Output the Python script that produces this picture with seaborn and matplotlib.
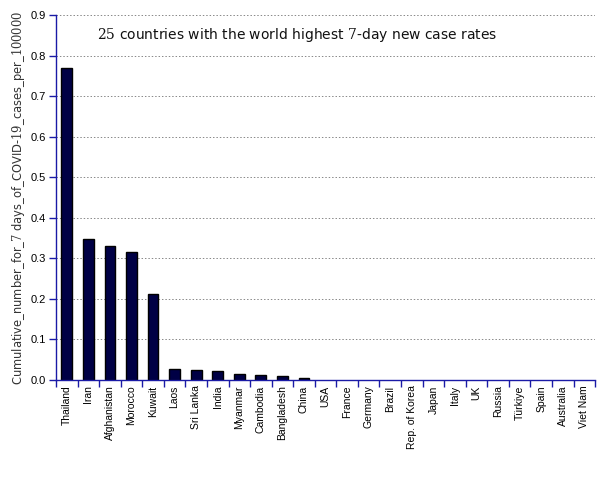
import matplotlib

matplotlib.use("Agg")
import matplotlib.pyplot as plt
import numpy as np
import pandas as pd
import seaborn as sns

countries = [
    "Thailand", "Iran", "Afghanistan", "Morocco", "Kuwait", "Laos", "Sri Lanka",
    "India", "Myanmar", "Cambodia", "Bangladesh", "China", "USA", "France",
    "Germany", "Brazil", "Rep. of Korea", "Japan", "Italy", "UK", "Russia",
    "Türkiye", "Spain", "Australia", "Viet Nam",
]
rates = [
    0.770, 0.348, 0.331, 0.315, 0.212, 0.027, 0.024, 0.022, 0.015, 0.012,
    0.009, 0.005, 0, 0, 0, 0, 0, 0, 0, 0, 0, 0, 0, 0, 0,
]
y_ticks = [0, 0.1, 0.2, 0.3, 0.4, 0.5, 0.6, 0.7, 0.8, 0.9]

sns.set_theme(style="white")
plt.rcParams["mathtext.fontset"] = "dejavuserif"
AXIS_BLUE = "#1a1aa6"

df = pd.DataFrame({"country": countries, "rate": rates})

fig = plt.figure(figsize=(6.05, 4.8), dpi=100)
ax = fig.add_axes([0.0926, 0.2083, 0.891, 0.7604])
sns.barplot(data=df, x="country", y="rate", color="#000045", edgecolor="black",
            linewidth=1.0, width=0.5, saturation=1, ax=ax)
# empty bars: no outline
for patch in ax.patches:
    if patch.get_height() == 0:
        patch.set_linewidth(0)

ax.set_xlim(-0.5, len(countries) - 0.5)
ax.set_ylim(0, 0.9)
ax.set_yticks(y_ticks)
ax.set_yticklabels([f"{v:.1f}" for v in y_ticks], fontsize=8,
                   family="Liberation Sans", color="black")
ax.yaxis.grid(True, linestyle=(0, (1.5, 2)), color="#888888", linewidth=0.7)
ax.set_axisbelow(True)

ax.set_xticks(range(len(countries)))
ax.set_xticklabels(countries, rotation=90, fontsize=7.5, family="Liberation Sans",
                   color="black")
ax.set_xticks(np.arange(-0.5, len(countries), 1.0), minor=True)
ax.tick_params(axis="x", which="major", bottom=True, length=0, pad=4)
ax.tick_params(axis="x", which="minor", bottom=True, length=5, width=1,
               color=AXIS_BLUE, direction="out")
ax.tick_params(axis="y", left=True, length=5, width=1, color=AXIS_BLUE,
               direction="out", pad=2)

for side in ["top", "right"]:
    ax.spines[side].set_visible(False)
for side in ["left", "bottom"]:
    ax.spines[side].set_color(AXIS_BLUE)
    ax.spines[side].set_linewidth(1.0)

ax.set_xlabel("")
ax.set_ylabel(r"Cumulative_number_for_$7$ days_of_COVID-$19$_cases_per_$100000$",
              fontsize=8.3, color="#333333", labelpad=3)
ax.text(0.076, 0.945, r"$25$ countries with the world highest $7$-day new case rates",
        transform=ax.transAxes, fontsize=10, va="center", ha="left", color="#111111")

fig.savefig("out.png", dpi=100)
